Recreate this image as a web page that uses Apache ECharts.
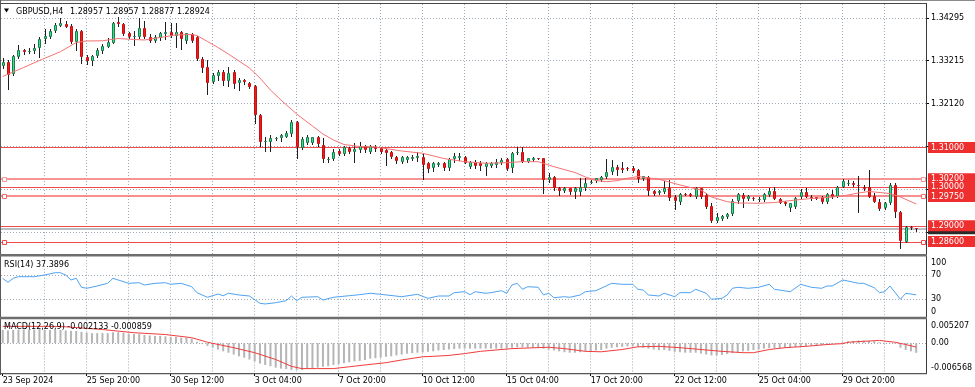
<!DOCTYPE html>
<html><head><meta charset="utf-8">
<script src="https://cdn.jsdelivr.net/npm/echarts@6/dist/echarts.min.js"></script>
<style>html,body{margin:0;padding:0;background:#fff;}#c{width:975px;height:387px;}</style>
</head><body><div id="c"></div>
<script>
// ---- data (GBPUSD H4, bars numbered 1..175) ----
const opens = [
1.33084,1.33186,1.32872,1.33313,1.33484,1.33433,1.33466,1.33527,1.33757,1.33808,
1.33976,1.34104,1.34147,1.34104,1.33696,1.33976,1.33313,1.33211,1.33331,1.33466,
1.33568,1.33670,1.34190,1.34147,1.33910,1.33823,1.33823,1.34037,1.33823,1.33721,
1.33782,1.33884,1.33935,1.33841,1.33951,1.33721,1.33892,1.33808,1.33247,1.33058,
1.32676,1.32821,1.32931,1.32701,1.32931,1.32635,1.32719,1.32635,1.32566,1.31827,
1.31146,1.31130,1.31232,1.31232,1.31273,1.31342,1.31656,1.30977,1.31120,1.31105,
1.31258,1.31062,1.30697,1.30697,1.30916,1.30832,1.30977,1.30891,1.30934,1.31036,
1.30891,1.31018,1.30977,1.30934,1.30891,1.30763,1.30636,1.30679,1.30697,1.30722,
1.30763,1.30610,1.30467,1.30552,1.30595,1.30467,1.30697,1.30722,1.30763,1.30508,
1.30636,1.30595,1.30508,1.30526,1.30552,1.30610,1.30697,1.30467,1.30850,1.30891,
1.30636,1.30679,1.30722,1.30722,1.30169,1.30253,1.29973,1.29889,1.29957,1.29871,
1.29855,1.29957,1.30110,1.30144,1.30169,1.30253,1.30365,1.30508,1.30483,1.30467,
1.30467,1.30424,1.30195,1.30253,1.29889,1.29830,1.29871,1.29973,1.29743,1.29600,
1.29804,1.29804,1.29743,1.29957,1.29787,1.29514,1.29131,1.29167,1.29218,1.29302,
1.29641,1.29787,1.29677,1.29702,1.29677,1.29659,1.29787,1.29896,1.29677,1.29616,
1.29447,1.29473,1.29728,1.29871,1.29743,1.29728,1.29728,1.29616,1.29812,1.29743,
1.29998,1.30067,1.30100,1.30034,1.29998,1.29991,1.29769,1.29616,1.29447,1.29575,
1.30042,1.29361,1.28596,1.28963,1.28957];
const highs = [
1.33280,1.33229,1.33357,1.33612,1.33502,1.33527,1.33637,1.33823,1.34012,1.34012,
1.34180,1.34292,1.34231,1.34147,1.34012,1.33994,1.33357,1.33357,1.33527,1.33629,
1.33782,1.34206,1.34318,1.34180,1.33951,1.33976,1.34292,1.34231,1.33892,1.33867,
1.33951,1.34206,1.34180,1.34180,1.33969,1.33925,1.33910,1.33841,1.33313,1.33229,
1.32890,1.32974,1.32974,1.33043,1.32974,1.32762,1.32745,1.32676,1.32592,1.31852,
1.31273,1.31317,1.31273,1.31342,1.31426,1.31699,1.31681,1.31273,1.31317,1.31258,
1.31291,1.31232,1.30763,1.30952,1.30952,1.31036,1.31018,1.31105,1.31146,1.31062,
1.31062,1.31062,1.31003,1.30952,1.30916,1.30781,1.30781,1.30781,1.30807,1.30891,
1.30865,1.30636,1.30636,1.30636,1.30636,1.30722,1.30850,1.30850,1.30781,1.30661,
1.30679,1.30661,1.30636,1.30636,1.30697,1.30722,1.30722,1.30875,1.31018,1.31018,
1.30738,1.30748,1.30738,1.30738,1.30340,1.30279,1.29998,1.29998,1.29973,1.29991,
1.30228,1.30228,1.30169,1.30228,1.30279,1.30705,1.30679,1.30552,1.30636,1.30493,
1.30534,1.30450,1.30279,1.30279,1.29914,1.29914,1.30144,1.30169,1.29787,1.29830,
1.29830,1.29830,1.29998,1.29973,1.29830,1.29575,1.29335,1.29277,1.29320,1.29677,
1.29845,1.29830,1.29787,1.29743,1.29728,1.29830,1.29957,1.29998,1.29702,1.29641,
1.29590,1.29743,1.29932,1.29957,1.29787,1.29743,1.29761,1.29845,1.29914,1.30016,
1.30187,1.30169,1.30144,1.30271,1.30042,1.30424,1.29830,1.29677,1.29600,1.30085,
1.30085,1.29386,1.28996,1.29004,1.28957];
const lows = [
1.33025,1.32490,1.32847,1.33280,1.33382,1.33415,1.33400,1.33313,1.33655,1.33782,
1.33951,1.34096,1.34063,1.33670,1.33484,1.33145,1.33127,1.33102,1.33298,1.33400,
1.33553,1.33655,1.34104,1.33867,1.33782,1.33612,1.33782,1.33782,1.33696,1.33696,
1.33739,1.33757,1.33808,1.33568,1.33502,1.33670,1.33696,1.33229,1.32931,1.32362,
1.32650,1.32719,1.32592,1.32566,1.32507,1.32464,1.32617,1.32507,1.31615,1.31036,
1.30916,1.30916,1.31189,1.31171,1.31258,1.31291,1.30722,1.30952,1.31087,1.31087,
1.31036,1.30636,1.30636,1.30679,1.30807,1.30807,1.30850,1.30636,1.30891,1.30891,
1.30865,1.30916,1.30850,1.30552,1.30722,1.30610,1.30610,1.30636,1.30679,1.30661,
1.30195,1.30381,1.30406,1.30534,1.30424,1.30424,1.30636,1.30679,1.30595,1.30467,
1.30467,1.30424,1.30297,1.30501,1.30508,1.30577,1.30424,1.30381,1.30824,1.30620,
1.30620,1.30654,1.30697,1.29830,1.30110,1.29914,1.29787,1.29871,1.29804,1.29718,
1.29787,1.29914,1.30085,1.30110,1.30144,1.30212,1.30314,1.30297,1.30381,1.30424,
1.30381,1.30126,1.30169,1.29787,1.29787,1.29804,1.29830,1.29659,1.29430,1.29549,
1.29779,1.29761,1.29718,1.29718,1.29447,1.29090,1.29090,1.29149,1.29200,1.29277,
1.29590,1.29488,1.29659,1.29659,1.29641,1.29641,1.29761,1.29677,1.29575,1.29532,
1.29386,1.29447,1.29702,1.29728,1.29659,1.29677,1.29590,1.29590,1.29702,1.29728,
1.29983,1.30042,1.30016,1.29361,1.29914,1.29728,1.29600,1.29404,1.29422,1.29549,
1.29233,1.28427,1.28580,1.28920,1.28877];
const closes = [
1.33186,1.32847,1.33339,1.33484,1.33433,1.33466,1.33543,1.33757,1.33841,1.33976,
1.34122,1.34165,1.34078,1.33696,1.33969,1.33298,1.33211,1.33331,1.33484,1.33586,
1.33680,1.34180,1.34139,1.33892,1.33823,1.33841,1.34037,1.33808,1.33721,1.33808,
1.33910,1.33951,1.33849,1.33951,1.33757,1.33910,1.33721,1.33247,1.33033,1.32650,
1.32847,1.32931,1.32701,1.32905,1.32617,1.32719,1.32668,1.32533,1.31827,1.31146,
1.31164,1.31232,1.31240,1.31317,1.31375,1.31656,1.31018,1.31207,1.31273,1.31258,
1.31087,1.30697,1.30705,1.30891,1.30832,1.31003,1.30875,1.30952,1.31036,1.30934,
1.31036,1.30952,1.30891,1.30850,1.30763,1.30661,1.30748,1.30748,1.30763,1.30781,
1.30552,1.30442,1.30610,1.30595,1.30467,1.30697,1.30781,1.30781,1.30610,1.30636,
1.30526,1.30526,1.30595,1.30610,1.30636,1.30679,1.30450,1.30850,1.30891,1.30636,
1.30722,1.30738,1.30720,1.30169,1.30253,1.29957,1.29889,1.29957,1.29855,1.29957,
1.29998,1.30085,1.30126,1.30212,1.30253,1.30365,1.30508,1.30424,1.30424,1.30457,
1.30399,1.30195,1.30279,1.29889,1.29804,1.29889,1.29973,1.29702,1.29641,1.29804,
1.29800,1.29769,1.29957,1.29743,1.29488,1.29124,1.29218,1.29251,1.29302,1.29641,
1.29812,1.29677,1.29761,1.29700,1.29685,1.29812,1.29896,1.29677,1.29590,1.29557,
1.29575,1.29702,1.29871,1.29743,1.29677,1.29690,1.29616,1.29812,1.29728,1.29998,
1.30144,1.30100,1.30042,1.30016,1.29932,1.29743,1.29616,1.29422,1.29575,1.30042,
1.29361,1.28621,1.28978,1.28957,1.28924];

const maBars = [1,5,8,12,15,17,20,23,26,28,31,34,37,38,40,42,44,46,48,50,52,54,57,60,62,64,66,69,72,77,81,85,89,93,97,100,103,106,110,112,114,116,118,120,122,126,130,134,136,139,141,145,148,152,155,158,161,164,166,170,172,175];
const maValues = [1.32808,1.33040,1.33216,1.33441,1.33675,1.33714,1.33719,1.33777,1.33752,1.33739,1.33803,1.33867,1.33879,1.33854,1.33701,1.33548,1.33382,1.33204,1.33025,1.32770,1.32464,1.32209,1.31852,1.31546,1.31342,1.31189,1.31074,1.31023,1.31011,1.30909,1.30850,1.30717,1.30636,1.30595,1.30610,1.30636,1.30636,1.30508,1.30360,1.30246,1.30156,1.30126,1.30151,1.30212,1.30258,1.30187,1.30042,1.29914,1.29736,1.29616,1.29583,1.29575,1.29595,1.29659,1.29697,1.29723,1.29761,1.29838,1.29876,1.29825,1.29736,1.29557];

const rsiBars = [1,2,3,4,7,9,11,12,13,14,15,16,17,19,21,22,23,25,27,28,30,32,33,35,37,38,40,42,43,44,46,48,50,51,53,55,56,57,58,61,62,64,67,69,71,73,77,80,82,84,86,87,89,90,91,93,94,96,97,98,99,100,101,103,104,105,106,108,109,111,112,114,117,119,121,122,123,124,126,127,129,130,132,133,135,136,138,139,140,141,143,145,147,148,151,153,155,157,158,159,161,162,164,165,167,168,169,170,172,173,175];
const rsiValues = [64.6,58.0,64.6,67.2,67.2,70.0,73.8,73.8,70.0,61.8,64.6,49.8,48.1,51.9,56.3,64.6,61.8,56.3,57.3,53.5,56.3,57.3,54.7,56.3,50.7,40.9,33.3,38.7,35.9,39.9,37.1,35.4,23.4,22.3,24.4,27.7,35.4,27.7,33.3,34.3,28.8,33.3,35.9,37.6,39.9,38.2,34.3,38.2,31.6,35.4,35.4,40.9,42.5,37.6,42.5,39.9,40.9,44.2,39.9,53.5,56.3,46.5,50.7,49.8,37.1,39.9,32.6,34.3,33.3,37.1,42.5,44.2,56.3,54.7,54.7,46.5,45.3,37.1,35.4,39.9,34.3,40.9,40.9,46.5,39.9,30.0,31.6,37.1,48.1,49.8,48.1,49.8,54.7,46.5,42.5,54.7,49.8,48.1,51.9,51.9,61.8,60.1,56.3,56.3,49.1,40.9,42.5,51.9,30.0,39.9,37.3896];

const macdMain = [
0.0029,0.0028,0.0029,0.0030,0.0030,0.0030,0.0030,0.0031,0.0029,0.0029,
0.0029,0.0029,0.0028,0.0027,0.0027,0.0025,0.0023,0.0022,0.0022,0.0022,
0.0022,0.0024,0.0024,0.0023,0.0021,0.0020,0.0020,0.0018,0.0017,0.0016,
0.0016,0.0015,0.0014,0.0014,0.0012,0.0012,0.0010,0.0003,-0.0002,-0.0006,
-0.0010,-0.0014,-0.0018,-0.0021,-0.0025,-0.0029,-0.0032,-0.0036,-0.0040,-0.0045,
-0.0048,-0.0051,-0.0054,-0.0056,-0.0057,-0.0059,-0.0059,-0.0059,-0.0057,-0.0056,
-0.0054,-0.0052,-0.0051,-0.0048,-0.0046,-0.0044,-0.0042,-0.0040,-0.0039,-0.0037,
-0.0034,-0.0033,-0.0032,-0.0030,-0.0029,-0.0027,-0.0025,-0.0023,-0.0022,-0.0021,
-0.0020,-0.0019,-0.0018,-0.0016,-0.0015,-0.0014,-0.0013,-0.0012,-0.0012,-0.0012,
-0.0012,-0.0012,-0.0012,-0.0012,-0.0012,-0.0012,-0.0012,-0.0010,-0.0009,-0.0009,
-0.0010,-0.0010,-0.0010,-0.0012,-0.0014,-0.0016,-0.0018,-0.0020,-0.0021,-0.0021,
-0.0020,-0.0018,-0.0018,-0.0016,-0.0015,-0.0012,-0.0010,-0.0009,-0.0008,-0.0007,
-0.0007,-0.0008,-0.0010,-0.0012,-0.0014,-0.0015,-0.0015,-0.0017,-0.0019,-0.0020,
-0.0021,-0.0021,-0.0021,-0.0023,-0.0025,-0.0027,-0.0027,-0.0026,-0.0024,-0.0022,
-0.0020,-0.0018,-0.0017,-0.0015,-0.0014,-0.0012,-0.0011,-0.0011,-0.0011,-0.0010,
-0.0010,-0.0008,-0.0007,-0.0006,-0.0005,-0.0005,-0.0004,-0.0004,-0.0002,-0.0001,
0.0002,0.0004,0.0005,0.0006,0.0006,0.0005,0.0004,0.0002,0.0001,0.0001,
-0.0002,-0.0010,-0.0015,-0.0018,-0.002133];
const signalBars = [1,10,13,20,26,32,37,40,45,49,53,56,58,61,64,67,70,74,77,81,83,86,89,92,98,105,108,112,115,119,122,126,130,134,138,142,144,147,150,154,158,161,162,165,168,171,173,175];
const signalValues = [0.0037,0.0037,0.0036,0.0030,0.0023,0.0019,0.0012,0.0002,-0.0010,-0.0021,-0.0036,-0.0051,-0.0056,-0.0056,-0.0056,-0.0052,-0.0048,-0.0043,-0.0037,-0.0030,-0.0029,-0.0027,-0.0023,-0.0018,-0.0012,-0.0009,-0.0012,-0.0018,-0.0019,-0.0014,-0.0008,-0.0007,-0.0010,-0.0014,-0.0018,-0.0021,-0.0021,-0.0014,-0.0010,-0.0007,-0.0003,-0.0001,0.0002,0.0004,0.0006,0.0002,-0.0003,-0.000859];

const levels = [1.31000, 1.30200, 1.30000, 1.29750, 1.29000, 1.28600];
const bidPrice = 1.28924;
const priceLabels = [1.34295, 1.33215, 1.32120];
const priceGrid = [1.34295, 1.33215, 1.32120, 1.31025, 1.29930, 1.28835];
const rsiLabels = [0, 30, 70, 100];
const rsiLevels = [30, 70];
const macdLabels = [-0.006568, 0, 0.005207];
const timeLabelBars = [1, 17, 33, 49, 65, 81, 97, 113, 129, 145, 161];
const timeLabels = ['23 Sep 2024','25 Sep 20:00','30 Sep 12:00','3 Oct 04:00','7 Oct 20:00','10 Oct 12:00','15 Oct 04:00','17 Oct 20:00','22 Oct 12:00','25 Oct 04:00','29 Oct 20:00'];
const gridBars = [9,17,25,33,41,49,57,65,73,81,89,97,105,113,121,129,137,145,153,161,169];

// ---- chart ----
const FONT = 'DejaVu Sans';
const FS = 8;
const X_MIN = 0.67619, X_MAX = 176.867;
const dotted = {color: '#9ea9b8', width: 1, type: [1, 2]};
const chart = echarts.init(document.getElementById('c'), null, {renderer: 'canvas'});

const candleData = opens.map((o, k) => [k + 1, o, highs[k], lows[k], closes[k]]);
const maData = maBars.map((b, k) => [b, maValues[k]]);
const rsiData = rsiBars.map((b, k) => [b, rsiValues[k]]);
const macdData = macdMain.map((v, k) => [k + 1, v]);
const signalData = signalBars.map((b, k) => [b, signalValues[k]]);

function levelStyle(v) {
  if (Math.abs(v - 1.302) < 1e-6) return {color: '#f79494', width: 2, sym: true};
  if (Math.abs(v - 1.2975) < 1e-6) return {color: '#f46a6a', width: 1.5, sym: true};
  if (Math.abs(v - 1.286) < 1e-6) return {color: '#f04a4a', width: 1, sym: true};
  return {color: '#f04a4a', width: 1, sym: false};
}

function gridXAxis(gi) {
  return {type: 'value', gridIndex: gi, min: X_MIN, max: X_MAX, position: 'top',
    axisLine: {show: false}, axisLabel: {show: false},
    axisTick: {show: false, customValues: gridBars},
    splitLine: {show: true, lineStyle: dotted}};
}
const txt = {fontFamily: FONT, fontSize: FS, color: '#000'};

function hLine(params, api, color, width, sym) {
  const cs = params.coordSys;
  const py = api.coord([X_MIN, api.value(1)])[1];
  const y = width % 2 === 1 ? Math.round(py) + 0.5 : Math.round(py);
  const children = [{type: 'line', shape: {x1: cs.x, y1: y, x2: cs.x + cs.width, y2: y}, style: {stroke: color, lineWidth: width}}];
  if (sym) {
    const yc = Math.round(py) + 0.5;
    children.push({type: 'rect', shape: {x: cs.x + 1.5, y: yc - 2, width: 4, height: 4}, style: {fill: '#fff', stroke: color, lineWidth: 1}});
    children.push({type: 'rect', shape: {x: cs.x + cs.width - 4.5, y: yc - 2, width: 4, height: 4}, style: {fill: '#fff', stroke: color, lineWidth: 1}});
  }
  return {type: 'group', children};
}

const option = {
  animation: false,
  backgroundColor: '#fff',
  grid: [
    {left: 1, top: 4, width: 925, height: 250, outerBoundsMode: 'none', show: false},
    {left: 1, top: 256.8, width: 925, height: 60.7, outerBoundsMode: 'none', show: false},
    {left: 1, top: 319.5, width: 925, height: 53.5, outerBoundsMode: 'none', show: false}
  ],
  xAxis: [
    gridXAxis(0), gridXAxis(1), gridXAxis(2),
    {type: 'value', gridIndex: 2, min: X_MIN, max: X_MAX, position: 'bottom',
      axisLine: {show: false}, splitLine: {show: false},
      axisTick: {show: true, customValues: timeLabelBars, length: 3, lineStyle: {color: '#000'}},
      axisLabel: Object.assign({show: true, customValues: timeLabelBars, margin: 4, align: 'left',
        formatter: v => { const k = timeLabelBars.indexOf(Math.round(v)); return k >= 0 ? timeLabels[k] : ''; }}, txt)}
  ],
  yAxis: [
    {type: 'value', gridIndex: 0, position: 'right', min: 1.28282, max: 1.34657,
      axisLine: {show: false},
      axisTick: {show: true, customValues: priceGrid, length: 3, lineStyle: {color: '#000'}},
      axisLabel: Object.assign({customValues: priceLabels, margin: 5, formatter: v => v.toFixed(5)}, txt),
      splitLine: {show: true, lineStyle: dotted}},
    {type: 'value', gridIndex: 1, position: 'right', min: 0, max: 100,
      axisLine: {show: false},
      axisTick: {show: false, customValues: rsiLevels},
      axisLabel: Object.assign({customValues: rsiLabels, margin: 5,
        formatter: v => v >= 99.5 ? '{t|100}' : (v <= 0.5 ? '{b|0}' : '{n|' + Math.round(v) + '}'),
        rich: {t: Object.assign({padding: [12, 0, 0, 0]}, txt), b: Object.assign({padding: [0, 0, 12, 0]}, txt), n: Object.assign({}, txt)}}, txt),
      splitLine: {show: true, lineStyle: dotted}},
    {type: 'value', gridIndex: 2, position: 'right', min: -0.006568, max: 0.005207,
      axisLine: {show: false},
      axisTick: {show: false, customValues: [0]},
      axisLabel: Object.assign({customValues: macdLabels, margin: 5,
        formatter: v => v > 0.001 ? '{t|' + v.toFixed(6) + '}' : (v < -0.001 ? '{b|' + v.toFixed(6) + '}' : '{n|0.00}'),
        rich: {t: Object.assign({padding: [13, 0, 0, 0]}, txt), b: Object.assign({padding: [0, 0, 11, 0]}, txt), n: Object.assign({}, txt)}}, txt),
      splitLine: {show: true, lineStyle: dotted}}
  ],
  series: [
    {type: 'custom', xAxisIndex: 0, yAxisIndex: 0, z: 2, silent: true, clip: false,
      data: [[X_MIN, bidPrice]], encode: {x: 0, y: 1},
      renderItem: (params, api) => hLine(params, api, '#b9bec6', 2, false)},
    {type: 'custom', xAxisIndex: 0, yAxisIndex: 0, z: 2, silent: true, clip: false,
      data: levels.map(v => [X_MIN, v]), encode: {x: 0, y: 1},
      renderItem: (params, api) => { const st = levelStyle(api.value(1)); return hLine(params, api, st.color, st.width, st.sym); }},
    {type: 'custom', xAxisIndex: 0, yAxisIndex: 0, z: 3, data: candleData,
      encode: {x: 0, y: [1, 2, 3, 4]},
      renderItem: (params, api) => {
        const i = api.value(0), o = api.value(1), h = api.value(2), l = api.value(3), c = api.value(4);
        const po = api.coord([i, o]), pc = api.coord([i, c]), ph = api.coord([i, h]), pl = api.coord([i, l]);
        const xc = Math.round(po[0]);
        const bull = c > o;
        let top = Math.round(Math.min(po[1], pc[1])), bot = Math.round(Math.max(po[1], pc[1]));
        if (bot - top < 1) bot = top + 1;
        return {type: 'group', children: [
          {type: 'line', shape: {x1: xc + 0.5, y1: Math.round(ph[1]), x2: xc + 0.5, y2: Math.round(pl[1]) + 1},
            style: {stroke: '#1e1e1e', lineWidth: 1}},
          {type: 'rect', shape: {x: xc - 0.5, y: top + 0.5, width: 2, height: Math.max(bot - top - 1, 0)},
            style: {fill: bull ? '#2ee58c' : '#f01c1c', stroke: bull ? '#1f7a4d' : '#c41010', lineWidth: 1}}
        ]};
      }},
    {type: 'line', xAxisIndex: 0, yAxisIndex: 0, z: 4, data: maData, symbol: 'none', silent: true,
      lineStyle: {color: '#f47272', width: 1}},
    {type: 'line', xAxisIndex: 1, yAxisIndex: 1, z: 3, data: rsiData, symbol: 'none', silent: true,
      lineStyle: {color: '#4ea3f2', width: 1}},
    {type: 'bar', xAxisIndex: 2, yAxisIndex: 2, z: 2, data: macdData, barWidth: 2, silent: true,
      itemStyle: {color: '#b5b5b5'}},
    {type: 'line', xAxisIndex: 2, yAxisIndex: 2, z: 3, data: signalData, symbol: 'none', silent: true,
      lineStyle: {color: '#f03c3c', width: 1}}
  ]
};
chart.setOption(option);

// ---- overlays: frame, titles, level price boxes ----
const g = [];
const rect = (x, y, w, h, fill, z) => ({type: 'rect', z: z || 50, silent: true, shape: {x, y, width: w, height: h}, style: {fill}});
g.push(rect(0, 0, 975, 1, '#8a8a8a'));
g.push(rect(0, 3, 927, 1, '#4a4a4a'));
g.push(rect(0, 0, 1, 375, '#5a5a5a'));
g.push(rect(926, 3, 1, 371, '#3a3a3a'));
g.push(rect(0, 254, 927, 2.5, '#6e6e6e'));
g.push(rect(0, 316.8, 927, 2.4, '#6e6e6e'));
g.push(rect(0, 373, 927, 1.2, '#555555'));
g.push({type: 'polygon', z: 60, silent: true, shape: {points: [[4, 8.5], [9, 8.5], [6.5, 12.5]]}, style: {fill: '#000'}});
const label = (x, y, text, color, z) => ({type: 'text', z: z || 60, silent: true, x, y,
  style: {text, fill: color || '#000', font: FS + 'px "' + FONT + '"', textVerticalAlign: 'middle', textAlign: 'left'}});
g.push(label(16, 11.5, 'GBPUSD,H4'));
g.push(label(70, 11.5, '1.28957 1.28957 1.28877 1.28924'));
g.push(label(4, 264.5, 'RSI(14) 37.3896'));
g.push(label(4, 327, 'MACD(12,26,9) -0.002133 -0.000859'));
const yb = chart.convertToPixel({yAxisIndex: 0}, bidPrice);
g.push(rect(928, yb - 5.5, 47, 11, '#2a2a2a', 70));
levels.forEach((v, k) => {
  const y = chart.convertToPixel({yAxisIndex: 0}, v);
  g.push(rect(928, y - 5.5, 47, 11, '#ef2e2e', 71 + k * 2));
  g.push(label(931, y + 0.5, v.toFixed(5), '#fff', 72 + k * 2));
});
chart.setOption({graphic: g});
</script>
</body></html>
